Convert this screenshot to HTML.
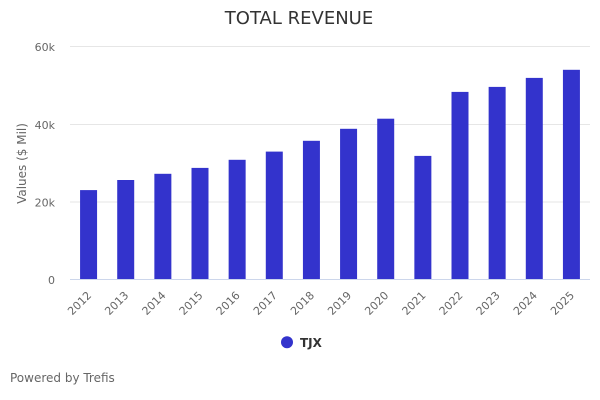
<!DOCTYPE html>
<html><head><meta charset="utf-8">
<style>
html,body{margin:0;padding:0;background:#fff;}
svg{display:block;font-family:"DejaVu Sans","Liberation Sans",sans-serif;}
</style></head>
<body>
<svg width="600" height="400" viewBox="0 0 600 400" xmlns="http://www.w3.org/2000/svg">
<rect width="600" height="400" fill="#fff"/>
<text x="299" y="24" text-anchor="middle" font-size="18" fill="#333">TOTAL REVENUE</text>
<g stroke="#e6e6e6" stroke-width="1">
<line x1="70" y1="46.5" x2="590" y2="46.5"/>
<line x1="70" y1="124.5" x2="590" y2="124.5"/>
<line x1="70" y1="202" x2="590" y2="202"/>
</g>
<g font-size="11" fill="#666" text-anchor="end">
<text x="55" y="51">60k</text>
<text x="55" y="129">40k</text>
<text x="55" y="206.5">20k</text>
<text x="55" y="284">0</text>
</g>
<text transform="translate(26 163.5) rotate(-90)" text-anchor="middle" font-size="12" fill="#666">Values ($ Mil)</text>
<g fill="#3333cc">
<rect x="80.07" y="190.1" width="17" height="89.2"/>
<rect x="117.21" y="180.0" width="17" height="99.3"/>
<rect x="154.36" y="173.8" width="17" height="105.5"/>
<rect x="191.5" y="167.9" width="17" height="111.4"/>
<rect x="228.64" y="159.8" width="17" height="119.5"/>
<rect x="265.79" y="151.6" width="17" height="127.7"/>
<rect x="302.93" y="140.8" width="17" height="138.5"/>
<rect x="340.07" y="128.8" width="17" height="150.5"/>
<rect x="377.21" y="118.7" width="17" height="160.6"/>
<rect x="414.36" y="155.9" width="17" height="123.4"/>
<rect x="451.5" y="91.9" width="17" height="187.4"/>
<rect x="488.64" y="86.9" width="17" height="192.4"/>
<rect x="525.79" y="77.9" width="17" height="201.4"/>
<rect x="562.93" y="69.8" width="17" height="209.5"/>
</g>
<line x1="70" y1="279.5" x2="590" y2="279.5" stroke="#ccd6eb" stroke-width="1"/>
<g font-size="11" fill="#666" text-anchor="end">
<text transform="translate(92.1 296) rotate(-45)">2012</text>
<text transform="translate(129.2 296) rotate(-45)">2013</text>
<text transform="translate(166.4 296) rotate(-45)">2014</text>
<text transform="translate(203.5 296) rotate(-45)">2015</text>
<text transform="translate(240.6 296) rotate(-45)">2016</text>
<text transform="translate(277.8 296) rotate(-45)">2017</text>
<text transform="translate(314.9 296) rotate(-45)">2018</text>
<text transform="translate(352.1 296) rotate(-45)">2019</text>
<text transform="translate(389.2 296) rotate(-45)">2020</text>
<text transform="translate(426.4 296) rotate(-45)">2021</text>
<text transform="translate(463.5 296) rotate(-45)">2022</text>
<text transform="translate(500.6 296) rotate(-45)">2023</text>
<text transform="translate(537.8 296) rotate(-45)">2024</text>
<text transform="translate(574.9 296) rotate(-45)">2025</text>
</g>
<circle cx="287" cy="342.3" r="6" fill="#3333cc"/>
<text x="300" y="347" font-size="12" font-weight="bold" fill="#333">TJX</text>
<text x="10" y="382" font-size="12" fill="#666">Powered by Trefis</text>
</svg>
</body></html>
